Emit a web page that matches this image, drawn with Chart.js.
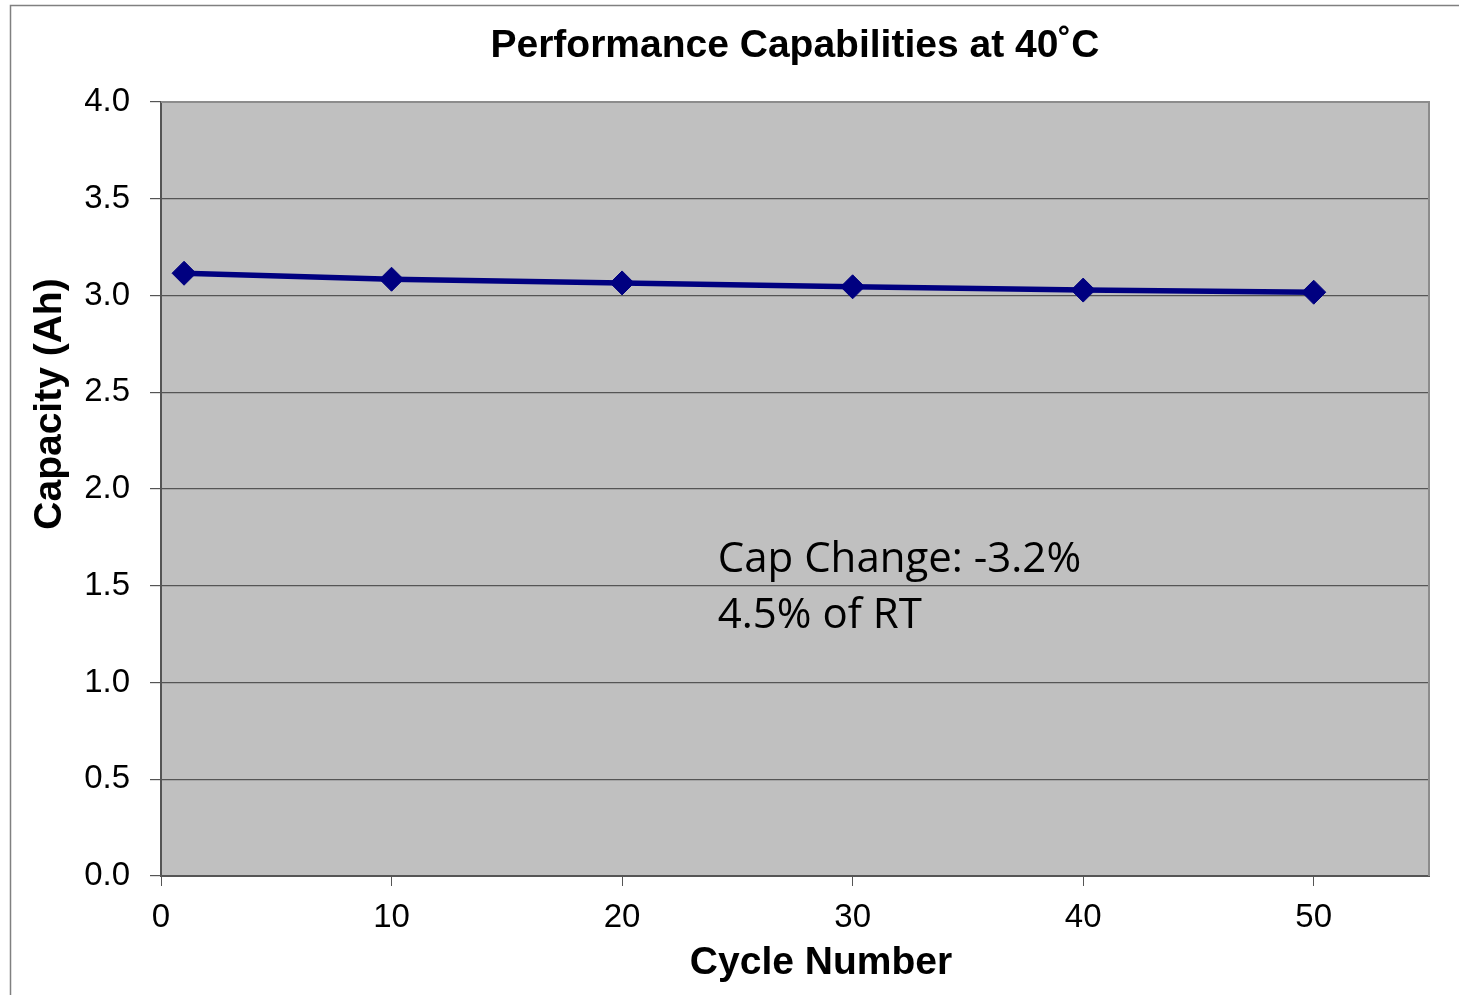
<!DOCTYPE html>
<html>
<head>
<meta charset="utf-8">
<script src="https://cdn.jsdelivr.net/npm/chart.js@4/dist/chart.umd.min.js"></script>
<style>
  body { margin: 0; background: #fff; }
  canvas { display: block; }
</style>
</head>
<body>
<canvas id="chart" width="1459" height="995"></canvas>
<script>
// values
var cycles = [1, 10, 20, 30, 40, 50];
var capacity = [3.115, 3.084, 3.065, 3.045, 3.028, 3.017];
var xTicks = [0, 10, 20, 30, 40, 50];
var noteLines = ["Cap Change: -3.2%", "4.5% of RT"];

var tickFont = { family: "'Liberation Sans', Arial, sans-serif", size: 33 };
var boldFont = "bold 39px 'Liberation Sans', Arial, sans-serif";

// grey plot background, frame and the outer border of the picture
var plotFrame = {
    id: "plotFrame",
    beforeDraw: function(chart) {
        var ctx = chart.ctx, a = chart.chartArea;
        ctx.save();
        ctx.fillStyle = "#c0c0c0";
        ctx.fillRect(a.left, a.top, a.right - a.left, a.bottom - a.top);
        ctx.strokeStyle = "#808080";
        ctx.lineWidth = 1.5;
        ctx.beginPath();
        ctx.moveTo(10.5, 995);
        ctx.lineTo(10.5, 5.5);
        ctx.lineTo(1459, 5.5);
        ctx.stroke();
        ctx.restore();
    },
    beforeDatasetsDraw: function(chart) {
        var ctx = chart.ctx, a = chart.chartArea;
        ctx.save();
        ctx.strokeStyle = "#8c8c8c";
        ctx.lineWidth = 2;
        ctx.beginPath();
        ctx.moveTo(a.left, a.top);
        ctx.lineTo(a.right, a.top);
        ctx.lineTo(a.right, a.bottom);
        ctx.stroke();
        ctx.restore();
    }
};

// axis titles and the note inside the plot
var textLabels = {
    id: "textLabels",
    afterDraw: function(chart) {
        var ctx = chart.ctx, a = chart.chartArea;
        var xs = chart.scales.x, ys = chart.scales.y;
        ctx.save();
        ctx.fillStyle = "#000";
        ctx.font = boldFont;
        ctx.textAlign = "center";
        ctx.textBaseline = "middle";
        ctx.fillText("Cycle Number", (a.left + a.right) / 2 + 26, 963);
        ctx.translate(50, 404);
        ctx.rotate(-Math.PI / 2);
        ctx.fillText("Capacity (Ah)", 0, 0);
        ctx.restore();

        ctx.save();
        ctx.fillStyle = "#000";
        ctx.font = "42px 'Open Sans', sans-serif";
        ctx.textAlign = "left";
        ctx.textBaseline = "alphabetic";
        var x0 = xs.getPixelForValue(24.15);
        var y0 = ys.getPixelForValue(1.57);
        noteLines.forEach(function(t, i) {
            ctx.fillText(t, x0, y0 + i * 56);
        });
        ctx.restore();
    }
};

var ctx = document.getElementById("chart").getContext("2d");
var chart = new Chart(ctx, {
    type: "line",
    data: {
        datasets: [{
            label: "Capacity",
            data: cycles.map(function(c, i) { return { x: c, y: capacity[i] }; }),
            borderColor: "#000080",
            backgroundColor: "#000080",
            borderWidth: 5.5,
            pointStyle: "rectRot",
            pointRadius: 12,
            pointBorderWidth: 1,
            pointBackgroundColor: "#000080",
            pointBorderColor: "#000080",
            fill: false,
            tension: 0
        }]
    },
    options: {
        responsive: false,
        animation: false,
        layout: { padding: { top: 0, left: 0, right: 30, bottom: 0 } },
        plugins: {
            legend: { display: false },
            tooltip: { enabled: false },
            title: {
                display: true,
                fullSize: false,
                text: "Performance Capabilities at 40˚C",
                color: "#000",
                font: { family: "'Liberation Sans', Arial, sans-serif", size: 39, weight: "bold", lineHeight: 1 },
                padding: { top: 27, bottom: 36 }
            }
        },
        scales: {
            x: {
                type: "linear",
                min: 0,
                max: 55,
                afterBuildTicks: function(scale) {
                    scale.ticks = xTicks.map(function(v) { return { value: v }; });
                },
                afterFit: function(scale) { scale.height = 119; },
                grid: {
                    drawOnChartArea: false,
                    drawTicks: true,
                    tickLength: 10,
                    color: "#555"
                },
                border: { color: "#555", width: 2 },
                ticks: { font: tickFont, color: "#000", padding: 12, maxRotation: 0 }
            },
            y: {
                min: 0,
                max: 4,
                afterFit: function(scale) { scale.width = 161; },
                grid: { color: "#555", tickLength: 11, lineWidth: 1.2 },
                border: { color: "#555", width: 2 },
                ticks: {
                    stepSize: 0.5,
                    font: tickFont,
                    color: "#000",
                    padding: 20,
                    callback: function(v) { return v.toFixed(1); }
                }
            }
        }
    },
    plugins: [plotFrame, textLabels]
});
</script>
</body>
</html>
